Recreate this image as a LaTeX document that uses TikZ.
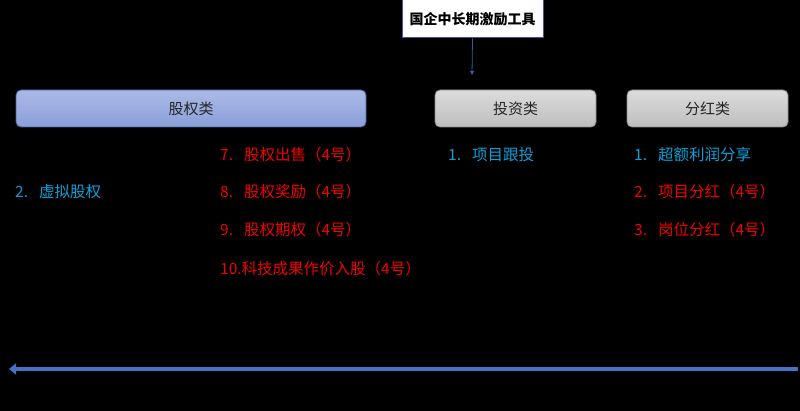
\documentclass[tikz,border=0pt]{standalone}
\usepackage{fontspec}
\setmainfont{Noto Sans CJK SC}
\usetikzlibrary{arrows.meta}
\definecolor{itemblue}{HTML}{0AA0D8}
\definecolor{itemred}{HTML}{F00000}
\definecolor{arrowblue}{HTML}{4472C4}
\definecolor{bluetop}{HTML}{AAB9E6}
\definecolor{bluebot}{HTML}{8A9FDA}
\definecolor{blueedge}{HTML}{4A5E9A}
\definecolor{graytop}{HTML}{DCDCDC}
\definecolor{graybot}{HTML}{BEBEBE}
\definecolor{grayedge}{HTML}{8A8A8A}
\tikzset{
  cat/.style={draw=#1, line width=0.8pt, rounded corners=5pt, minimum height=37pt, inner sep=0pt, font=\fontsize{15}{17}\selectfont, text=black!85},
  bluecat/.style={cat=blueedge, top color=bluetop, bottom color=bluebot},
  graycat/.style={cat=grayedge, top color=graytop, bottom color=graybot},
  item/.style={anchor=west, inner sep=0pt, font=\fontsize{15.5}{17}\selectfont},
  blueitem/.style={item, text=itemblue},
  reditem/.style={item, text=itemred},
}
\begin{document}
\begin{tikzpicture}[x=1pt,y=-1pt]
\useasboundingbox[fill=black] (0,0) rectangle (800,411);
\node[draw=blue!40!gray, line width=1pt, fill=white, minimum width=141pt, minimum height=38pt, inner sep=0pt, font=\bfseries\fontsize{14}{16}\selectfont] (top) at (472.5,19) {国企中长期激励工具};
\coordinate (topend) at (472,75);
\draw[draw=arrowblue!80!black, line width=0.8pt, -{Triangle[length=4pt,width=4pt]}] (top.south) -- (topend);

\node[bluecat, minimum width=350pt] (equity) at (191,108.5) {股权类};
\node[graycat, minimum width=161pt] (invest) at (515.5,108.5) {投资类};
\node[graycat, minimum width=161pt] (divid) at (707.5,108.5) {分红类};

\node[blueitem] (e2) at (15,192) {2.\hspace{11pt}虚拟股权};
\node[reditem] (e7) at (220,155) {7.\hspace{11pt}股权出售（4号）};
\node[reditem] (e8) at (220,192) {8.\hspace{11pt}股权奖励（4号）};
\node[reditem] (e9) at (220,230) {9.\hspace{11pt}股权期权（4号）};
\node[reditem] (e10) at (220,269) {10.科技成果作价入股（4号）};

\node[blueitem] (i1) at (448,155) {1.\hspace{11pt}项目跟投};

\node[blueitem] (d1) at (634,155) {1.\hspace{11pt}超额利润分享};
\node[reditem] (d2) at (634,192) {2.\hspace{11pt}项目分红（4号）};
\node[reditem] (d3) at (634,230) {3.\hspace{11pt}岗位分红（4号）};

\coordinate (arrR) at (798,369);
\coordinate (arrL) at (9,369);
\draw[arrowblue, line width=4pt, -{Triangle[length=7pt,width=11pt]}] (arrR) -- (arrL);
\end{tikzpicture}
\end{document}
